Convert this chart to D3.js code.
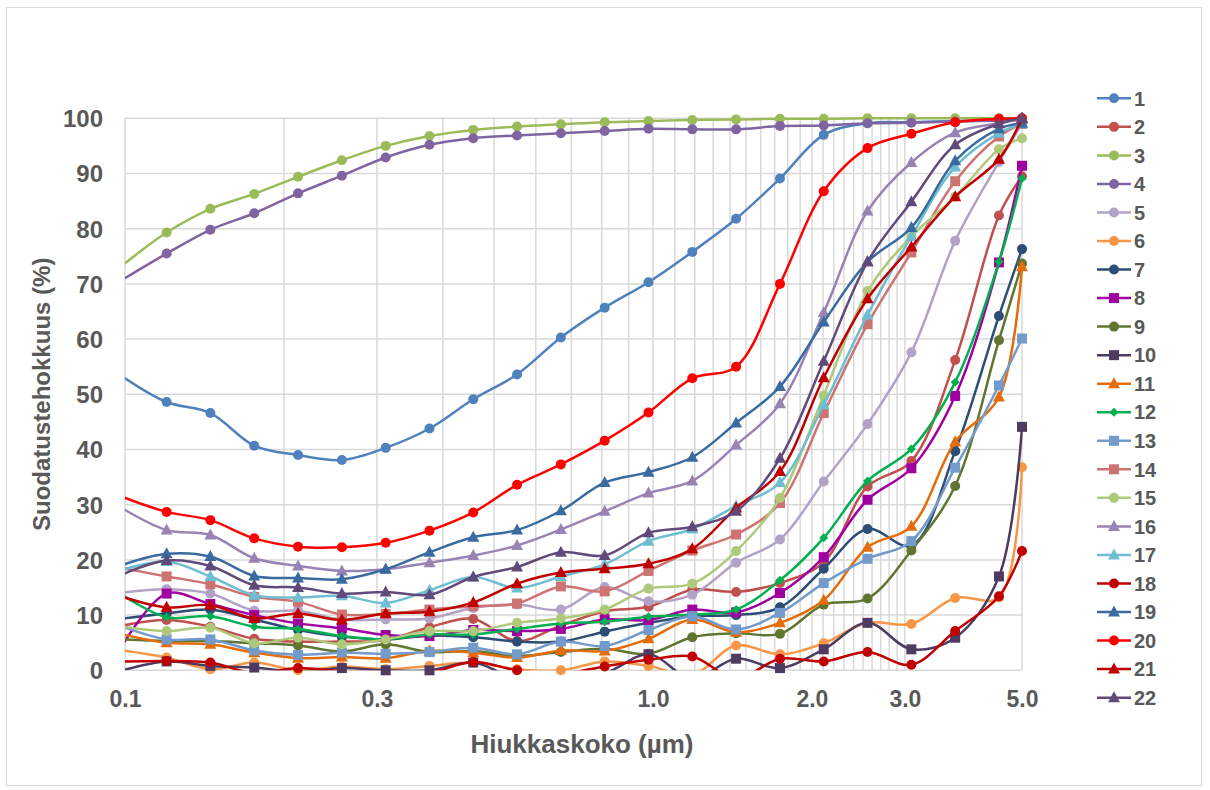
<!DOCTYPE html>
<html>
<head>
<meta charset="utf-8">
<script src="https://cdn.jsdelivr.net/npm/d3@7/dist/d3.min.js"></script>
<style>
  html, body { margin: 0; padding: 0; background: #fff; }
  svg { display: block; font-family: "Liberation Sans", Arial, sans-serif; }
</style>
</head>
<body>
<svg id="chart" width="1210" height="790"></svg>
<script>
// ---- data ----
const sizes = [0.099, 0.1199, 0.1451, 0.1757, 0.2127, 0.2575, 0.3117, 0.3773, 0.4567, 0.5528, 0.6692,
               0.8101, 0.9806, 1.187, 1.437, 1.740, 2.106, 2.549, 3.086, 3.736, 4.522, 5.0];
const seriesNames = ["1","2","3","4","5","6","7","8","9","10","11","12","13","14","15","16","17","18","19","20","21","22"];
const s01 = [53.2,48.6,46.6,40.7,39.0,38.1,40.3,43.8,49.1,53.6,60.3,65.7,70.3,75.8,81.8,89.1,97.0,99.1,99.3,99.5,99.7,99.8];
const s02 = [8.1,9.1,7.9,5.7,5.2,5.2,5.5,7.8,9.3,5.3,8.1,10.7,11.5,14.6,14.2,15.8,19.6,33.3,37.9,56.2,82.4,89.5];
const s03 = [73.4,79.3,83.6,86.3,89.4,92.4,95.0,96.8,97.9,98.5,98.9,99.3,99.5,99.7,99.8,99.9,99.9,100,100,100,100,100];
const s04 = [70.8,75.5,79.8,82.8,86.4,89.6,92.9,95.2,96.4,96.9,97.3,97.7,98.1,98.0,98.0,98.6,98.7,99.1,99.2,99.4,99.6,99.8];
const s05 = [14.1,14.7,13.9,10.8,10.8,9.2,9.2,9.4,11.3,11.9,11.0,15.1,12.5,13.7,19.5,23.7,34.2,44.6,57.6,77.8,92.1,99.0];
const s06 = [3.6,2.3,0.2,1.4,0,0.7,0.2,0.8,1.4,0.2,0,1.6,0.8,-0.8,4.5,2.9,4.9,8.6,8.4,13.1,13.2,36.8];
const s07 = [9.4,10.3,11.0,9.2,7.3,6.1,5.6,6.3,6.0,5.2,5.2,7.0,8.6,9.8,10.0,11.4,18.4,25.6,22.6,39.7,64.2,76.3];
const s08 = [4.6,13.9,12.0,10.0,8.5,7.6,6.4,6.2,7.3,7.1,7.5,9.2,9.1,11.0,10.5,14.0,20.5,30.9,36.6,49.7,73.9,91.4];
const s09 = [5.6,5.3,5.3,4.9,4.5,3.4,4.7,3.3,3.5,2.6,3.3,3.9,3.0,6.0,6.7,6.6,11.9,13.0,21.7,33.4,59.8,73.7];
const s10 = [0,1.6,0.8,0.5,-0.3,0.4,0,0,1.4,-1.5,-1.0,-0.5,2.9,-1.5,2.1,0.4,3.8,8.6,3.8,5.9,17.0,44.1];
const s11 = [6.5,5.0,4.7,3.2,2.2,2.4,2.2,3.5,3.2,2.3,3.6,3.5,5.7,9.2,6.9,8.6,12.7,22.3,26.1,41.4,49.5,73.1];
const s12 = [13.6,9.6,9.8,7.9,7.5,6.2,5.6,6.5,6.5,7.5,8.5,8.8,9.7,10.1,11.0,16.3,24.0,34.3,40.1,52.2,74.0,89.1];
const s13 = [7.9,5.6,5.6,3.6,2.8,3.2,3.0,3.3,4.1,2.9,5.2,4.4,7.3,9.8,7.4,10.4,15.8,20.2,23.4,36.7,51.6,60.1];
const s14 = [18.5,17.0,15.6,13.3,12.4,10.1,10.2,11.0,11.6,12.1,15.2,14.3,18.0,21.7,24.6,30.3,46.6,62.7,75.7,88.6,96.7,99.0];
const s15 = [7.9,7.1,7.7,4.9,5.9,4.7,5.6,7.1,7.1,8.6,9.4,11.0,14.8,15.7,21.6,31.2,49.8,68.7,78.6,85.8,94.4,96.4];
const s16 = [29.3,25.4,24.5,20.3,18.9,18.0,18.3,19.5,20.8,22.6,25.5,28.8,32.1,34.3,40.8,48.3,64.8,83.2,92.0,97.4,99.1,99.8];
const s17 = [18.2,19.7,17.0,13.6,13.2,13.5,12.2,14.5,16.9,14.9,17.0,19.2,23.4,25.6,29.8,34.0,48.1,64.4,78.6,91.2,97.3,99.0];
const s18 = [1.6,1.7,1.4,-0.5,0.4,-0.2,-0.3,-0.4,1.5,0,-0.6,0.7,1.9,2.5,-1.5,2.1,1.6,3.3,1.0,7.1,13.4,21.6];
const s19 = [19.1,21.1,20.6,17.1,16.7,16.5,18.3,21.4,24.1,25.4,28.9,34.0,35.9,38.6,44.8,51.4,63.1,74.0,80.2,92.3,98.1,99.1];
const s20 = [31.4,28.7,27.2,23.9,22.4,22.3,23.1,25.3,28.6,33.6,37.3,41.6,46.7,52.9,55.0,70.0,86.8,94.6,97.2,99.3,99.9,100];
const s21 = [13.3,11.4,11.8,9.4,10.3,9.1,10.3,10.6,12.3,15.7,17.7,18.4,19.3,22.0,29.4,36.0,53.0,67.3,76.7,85.8,92.6,100];
const s22 = [17.4,19.9,18.9,15.4,15.0,13.9,14.2,13.7,16.9,18.7,21.4,20.8,24.9,26.0,28.8,38.4,56.0,74.0,84.9,95.2,99.0,100];
const seriesValues = [s01,s02,s03,s04,s05,s06,s07,s08,s09,s10,s11,s12,s13,s14,s15,s16,s17,s18,s19,s20,s21,s22];

const xTickValues = [0.1, 0.3, 1, 2, 3, 5];
const xTickLabels = ["0.1", "0.3", "1.0", "2.0", "3.0", "5.0"];
const xGridValues = [0.1,0.2,0.3,0.4,0.5,0.6,0.7,0.8,0.9,1.0,1.1,1.2,1.3,1.4,1.5,1.6,1.7,1.8,1.9,2.0,
                     2.1,2.2,2.3,2.4,2.5,2.6,2.7,2.8,2.9,3.0,5.0];
const yTickValues = [0,10,20,30,40,50,60,70,80,90,100];
const xTitle = "Hiukkaskoko (µm)";
const yTitle = "Suodatustehokkuus (%)";

// ---- styles ----
const colors = ["#4F81BD","#C0504D","#9BBB59","#8064A2","#B3A2C7","#F79646","#2C4D75","#A000A0",
                "#5F7530","#4D3B62","#E46C0A","#00B050","#729ACA","#CD7371","#AFC97A","#9983B5",
                "#6FBDD1","#C00000","#3A6BA0","#FF0000","#C00000","#604A7B"];
const markers = ["circle","circle","circle","circle","circle","circle","circle","square",
                 "circle","square","triangle","diamond","square","square","circle","triangle",
                 "triangle","circle","triangle","circle","triangle","triangle"];

const textColor = "#595959";
const gridColor = "#D9D9D9";

const svg = d3.select("#chart");
const W = 1210, H = 790;
const plot = { left: 125, right: 1022, top: 118.3, bottom: 670.3 };

svg.append("rect").attr("x", 0).attr("y", 0).attr("width", W).attr("height", H).attr("fill", "#fff");
svg.append("rect").attr("x", 6.5).attr("y", 7.5).attr("width", 1195).attr("height", 778)
  .attr("fill", "none").attr("stroke", gridColor).attr("stroke-width", 1);

const x = d3.scaleLog().domain([0.1, 5]).range([plot.left, plot.right]);
const y = d3.scaleLinear().domain([0, 100]).range([plot.bottom, plot.top]);

// gridlines
const grid = svg.append("g");
grid.selectAll("line.h").data(yTickValues).join("line")
  .attr("x1", plot.left).attr("x2", plot.right)
  .attr("y1", d => y(d)).attr("y2", d => y(d))
  .attr("stroke", gridColor).attr("stroke-width", 1.5);
grid.selectAll("line.v").data(xGridValues).join("line")
  .attr("x1", d => x(d)).attr("x2", d => x(d))
  .attr("y1", plot.top).attr("y2", plot.bottom)
  .attr("stroke", gridColor).attr("stroke-width", 1.5);

// axes (labels only, via d3 axes)
const yAxis = d3.axisLeft(y).tickValues(yTickValues).tickSize(0).tickPadding(0).tickFormat(d3.format("d"));
const yg = svg.append("g").attr("transform", `translate(${plot.left - 22},0)`).call(yAxis);
yg.select(".domain").remove();
yg.selectAll("text").attr("fill", textColor).attr("font-size", 24).attr("font-weight", "bold")
  .attr("font-family", "'Liberation Sans', Arial, sans-serif").attr("dy", "0.35em");

const xAxis = d3.axisBottom(x).tickValues(xTickValues).tickSize(0).tickPadding(0)
  .tickFormat((d, i) => xTickLabels[i]);
const xg = svg.append("g").attr("transform", `translate(0,${plot.bottom + 20})`).call(xAxis);
xg.select(".domain").remove();
xg.selectAll("text").attr("fill", textColor).attr("font-size", 23).attr("font-weight", "bold")
  .attr("font-family", "'Liberation Sans', Arial, sans-serif").attr("dy", "0.71em");

// titles
svg.append("text").attr("x", 582).attr("y", 752.5)
  .attr("text-anchor", "middle").attr("fill", textColor)
  .attr("font-size", 26).attr("font-weight", "bold").text(xTitle);
svg.append("text").attr("transform", `translate(50,${(plot.top + plot.bottom) / 2}) rotate(-90)`)
  .attr("text-anchor", "middle").attr("fill", textColor)
  .attr("font-size", 24).attr("font-weight", "bold").text(yTitle);

// marker shapes
function markerPath(type) {
  const p = d3.path();
  if (type === "circle") { p.arc(0, 0, 5, 0, 2 * Math.PI); }
  else if (type === "square") { p.rect(-5, -5, 10, 10); }
  else if (type === "triangle") { p.moveTo(0, -6.5); p.lineTo(6, 4.5); p.lineTo(-6, 4.5); p.closePath(); }
  else if (type === "diamond") { p.moveTo(0, -4.5); p.lineTo(4.5, 0); p.lineTo(0, 4.5); p.lineTo(-4.5, 0); p.closePath(); }
  return p.toString();
}

// clip
svg.append("defs").append("clipPath").attr("id", "plotClip").append("rect")
  .attr("x", plot.left).attr("y", plot.top - 3)
  .attr("width", plot.right - plot.left + 2).attr("height", plot.bottom - plot.top + 3);

const line = d3.line()
  .x(d => x(d.x)).y(d => y(d.v))
  .curve(d3.curveCatmullRom.alpha(0.5));

const seriesData = seriesValues.map((vals, si) => ({
  name: seriesNames[si], color: colors[si], marker: markers[si],
  points: vals.map((v, i) => ({ x: sizes[i], v }))
}));

const gSeries = svg.append("g");
seriesData.forEach(s => {
  const g = gSeries.append("g");
  g.append("path").attr("d", line(s.points)).attr("fill", "none")
    .attr("stroke", s.color).attr("stroke-width", 2.5).attr("stroke-linejoin", "round")
    .attr("clip-path", "url(#plotClip)");
  g.selectAll("path.m").data(s.points.filter(p => p.x >= 0.1 && p.v >= 0)).join("path")
    .attr("class", "m")
    .attr("transform", p => `translate(${x(p.x)},${y(p.v)})`)
    .attr("d", markerPath(s.marker)).attr("fill", s.color);
});

// legend
const legend = svg.append("g");
seriesData.forEach((s, i) => {
  const cy = 98.3 + 28.54 * i;
  const g = legend.append("g").attr("transform", `translate(0,${cy})`);
  g.append("line").attr("x1", 1097).attr("x2", 1131).attr("y1", 0).attr("y2", 0)
    .attr("stroke", s.color).attr("stroke-width", 2.5);
  g.append("path").attr("transform", "translate(1114,0)").attr("d", markerPath(s.marker)).attr("fill", s.color);
  g.append("text").attr("x", 1134).attr("y", 7.2).attr("fill", textColor)
    .attr("font-size", 20).attr("font-weight", "bold").text(s.name);
});
</script>
</body>
</html>
